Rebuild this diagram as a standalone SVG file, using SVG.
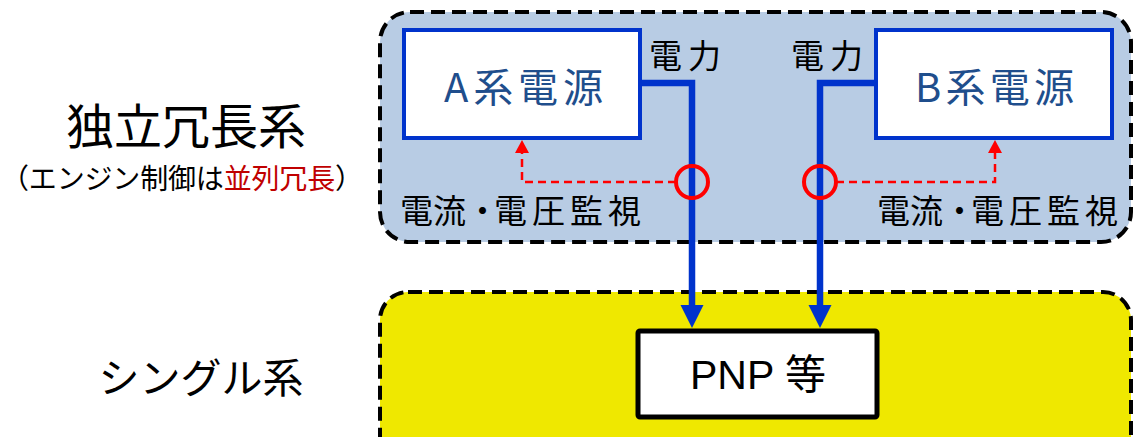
<svg xmlns="http://www.w3.org/2000/svg" width="1135" height="437" viewBox="0 0 1135 437">
  <style>
    .jp { font-family: "Noto Sans CJK JP", "Liberation Sans", sans-serif; }
    .zone { stroke: #000; stroke-width: 4; stroke-dasharray: 14 7; }
    .src { fill: #fff; stroke: #0033cc; stroke-width: 4; }
    .srcText { font-size: 40px; fill: #1f4e8c; }
    .label { font-size: 33px; fill: #000; }
    .power { fill: none; stroke: #0033cc; stroke-width: 6.5; }
    .sense { fill: none; stroke: #ff0000; stroke-width: 2.5; stroke-dasharray: 8 5; }
    .ring { fill: none; stroke: #ff0000; stroke-width: 4; }
  </style>

  <!-- zone backgrounds -->
  <rect id="zone-redundant" class="zone" x="380" y="12" width="751" height="230" rx="30" fill="#b8cce4"/>
  <rect id="zone-single" class="zone" x="380" y="292" width="751" height="175" rx="28" fill="#efe800"/>

  <!-- side captions -->
  <text class="jp" x="186" y="144" font-size="48" text-anchor="middle">独立冗長系</text>
  <text class="jp" x="1" y="189" font-size="28" textLength="362">（エンジン制御は<tspan fill="#c00000">並列冗長</tspan>）</text>
  <text class="jp" x="201" y="393" font-size="41" text-anchor="middle">シングル系</text>

  <!-- connectors -->
  <g id="connectors">
    <path class="power" d="M640 83 H692 V306"/>
    <path d="M680.5 305 L703.5 305 L692 328 Z" fill="#0033cc"/>
    <path class="power" d="M876 83 H820 V306"/>
    <path d="M808.5 305 L831.5 305 L820 328 Z" fill="#0033cc"/>

    <path class="sense" d="M676 182 H522 V153"/>
    <path d="M515 153 L529 153 L522 140 Z" fill="#ff0000"/>
    <path class="sense" d="M836 182 H995 V153"/>
    <path d="M988 153 L1002 153 L995 140 Z" fill="#ff0000"/>

    <circle class="ring" cx="692" cy="182" r="16"/>
    <circle class="ring" cx="820" cy="182" r="16"/>

    <text class="jp label" x="649" y="68" textLength="72">電力</text>
    <text class="jp label" x="791" y="68" textLength="72">電力</text>
    <text class="jp label" x="400" y="223" dx="0 0 0 -5 5 5 5">電流・電圧監視</text>
    <text class="jp label" x="877" y="223" dx="0 0 0 -5 5 5 5">電流・電圧監視</text>
  </g>

  <!-- nodes -->
  <g id="node-a">
    <rect class="src" x="404" y="30" width="236" height="108"/>
    <text class="jp srcText" x="444" y="102" textLength="159">A系電源</text>
  </g>
  <g id="node-b">
    <rect class="src" x="876" y="30" width="236" height="108"/>
    <text class="jp srcText" x="915" y="102" textLength="159">B系電源</text>
  </g>
  <g id="node-pnp">
    <rect x="638" y="331" width="239" height="86" rx="2" fill="#fff" stroke="#000" stroke-width="5"/>
    <text x="758" y="389" font-family="Liberation Sans, Arial, sans-serif" font-size="41" text-anchor="middle">PNP <tspan class="jp">等</tspan></text>
  </g>
</svg>
